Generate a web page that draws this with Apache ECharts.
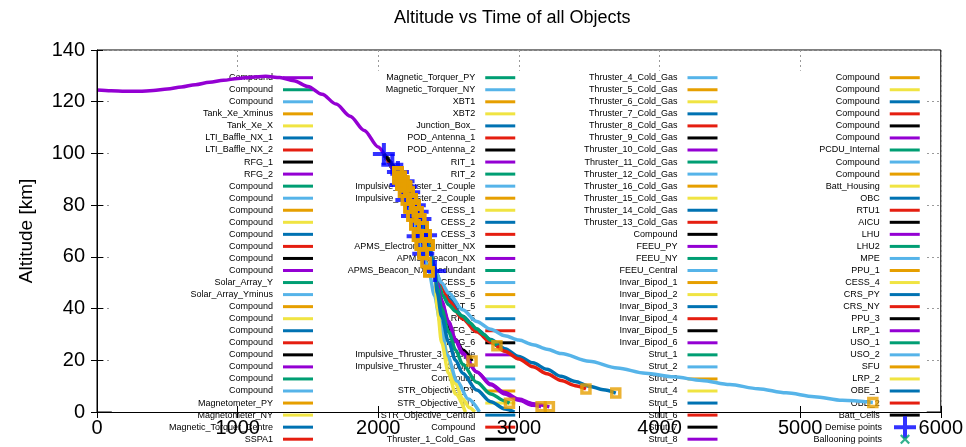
<!DOCTYPE html>
<html>
<head>
<meta charset="utf-8">
<script src="https://cdn.jsdelivr.net/npm/echarts@6/dist/echarts.min.js"></script>
<style>
  html, body { margin: 0; padding: 0; background: #ffffff; }
  #chart { width: 966px; height: 447px; }
</style>
</head>
<body>
<div id="chart"></div>
<script>
const FONT = '"Liberation Sans", Arial, sans-serif';

// Objects in plotting order (the key lists them in this order)
const objectNames = [
  'Compound', 'Compound', 'Compound', 'Tank_Xe_Xminus', 'Tank_Xe_X', 'LTI_Baffle_NX_1', 'LTI_Baffle_NX_2',
  'RFG_1', 'RFG_2', 'Compound', 'Compound', 'Compound', 'Compound', 'Compound', 'Compound', 'Compound',
  'Compound', 'Solar_Array_Y', 'Solar_Array_Yminus', 'Compound', 'Compound', 'Compound', 'Compound',
  'Compound', 'Compound', 'Compound', 'Compound', 'Magnetometer_PY', 'Magnetometer_NY',
  'Magnetic_Torquer_Centre', 'SSPA1', 'SSPA2', 'Magnetic_Torquer_PX',
  'Magnetic_Torquer_PY', 'Magnetic_Torquer_NY', 'XBT1', 'XBT2', 'Junction_Box_', 'POD_Antenna_1',
  'POD_Antenna_2', 'RIT_1', 'RIT_2', 'Impulsive_Thruster_1_Couple', 'Impulsive_Thruster_2_Couple',
  'CESS_1', 'CESS_2', 'CESS_3', 'APMS_Electronic_Emitter_NX', 'APMS_Beacon_NX', 'APMS_Beacon_NX_Redundant',
  'CESS_5', 'CESS_6', 'RIT_5', 'RIT_6', 'RFG_5', 'RFG_6', 'Impulsive_Thruster_3_Couple',
  'Impulsive_Thruster_4_Couple', 'Compound', 'STR_Objective_PY', 'STR_Objective_NY',
  'STR_Objective_Central', 'Compound', 'Thruster_1_Cold_Gas', 'Thruster_2_Cold_Gas', 'Thruster_3_Cold_Gas',
  'Thruster_4_Cold_Gas', 'Thruster_5_Cold_Gas', 'Thruster_6_Cold_Gas', 'Thruster_7_Cold_Gas',
  'Thruster_8_Cold_Gas', 'Thruster_9_Cold_Gas', 'Thruster_10_Cold_Gas', 'Thruster_11_Cold_Gas',
  'Thruster_12_Cold_Gas', 'Thruster_16_Cold_Gas', 'Thruster_15_Cold_Gas', 'Thruster_14_Cold_Gas',
  'Thruster_13_Cold_Gas', 'Compound', 'FEEU_PY', 'FEEU_NY', 'FEEU_Central', 'Invar_Bipod_1',
  'Invar_Bipod_2', 'Invar_Bipod_3', 'Invar_Bipod_4', 'Invar_Bipod_5', 'Invar_Bipod_6', 'Strut_1',
  'Strut_2', 'Strut_3', 'Strut_4', 'Strut_5', 'Strut_6', 'Strut_7', 'Strut_8', 'Strut_9', 'Strut_10',
  'Compound', 'Compound', 'Compound', 'Compound', 'Compound', 'Compound', 'PCDU_Internal', 'Compound',
  'Compound', 'Batt_Housing', 'OBC', 'RTU1', 'AICU', 'LHU', 'LHU2', 'MPE', 'PPU_1', 'CESS_4', 'CRS_PY',
  'CRS_NY', 'PPU_3', 'LRP_1', 'USO_1', 'USO_2', 'SFU', 'LRP_2', 'OBE_1', 'OBE_2', 'Batt_Cells'
];

// gnuplot default line colours, cycled through the objects
const palette = ['#9400D3', '#009E73', '#56B4E9', '#E69F00', '#F0E442', '#0072B2', '#E51E10', '#000000'];

// Axis ticks
const timeTicks = [0, 1000, 2000, 3000, 4000, 5000, 6000];
const altTicks = [0, 20, 40, 60, 80, 100, 120, 140];

// Parent spacecraft before break-up (time s, altitude km)
const parentT   = [0, 100, 200, 300, 400, 500, 600, 700, 800, 900, 1000, 1100, 1200, 1300, 1400, 1500, 1600, 1700, 1800, 1900, 2000, 2040];
const parentAlt = [124.5, 124.2, 124.0, 124.0, 124.3, 124.9, 125.7, 126.6, 127.5, 128.3, 129.0, 129.5, 129.8, 129.4, 128.1, 125.9, 122.9, 119.1, 114.4, 108.9, 102.5, 99.8];

// Common fragment track after break-up
const mainTrackT   = [2040, 2060, 2080, 2100, 2120, 2140, 2160, 2180, 2200, 2220, 2240, 2260, 2280, 2300, 2320, 2340, 2360, 2380, 2400];
const mainTrackAlt = [99.8, 98.4, 97.0, 95.6, 94.2, 92.8, 91.1, 89.2, 87.2, 85.0, 82.5, 80.0, 77.4, 74.6, 71.6, 68.4, 64.6, 60.2, 55.2];

// Steeper track followed by some of the lighter fragments
const leftTrackT   = [2040, 2060, 2080, 2100, 2120, 2140, 2160, 2180, 2200, 2220, 2240, 2260, 2280, 2300, 2320, 2340, 2360];
const leftTrackAlt = [99.8, 98.0, 96.2, 94.3, 92.3, 90.2, 87.8, 85.0, 82.0, 79.0, 75.8, 72.4, 68.0, 64.6, 61.2, 57.8, 54.2];

// End time of every fragment that burns up along the tracks, in plotting order
const bandEnd = [
  2300, 2180, 2340, 2220, 2160, 2260, 2320, 2140, 2280, 2200, 2360, 2240,
  2200, 2320, 2160, 2280, 2340, 2180, 2240, 2300, 2140, 2260, 2220, 2360,
  2260, 2140, 2300, 2180, 2220, 2340, 2160, 2320, 2240, 2360, 2200, 2280,
  2340, 2240, 2200, 2140, 2300, 2260, 2360, 2180, 2320, 2220, 2280, 2160,
  2180, 2280, 2240, 2320, 2140, 2360, 2200, 2260, 2160, 2300, 2340, 2220,
  2220, 2360, 2280, 2160, 2260, 2140, 2340, 2200, 2300, 2180, 2240, 2320,
  2160, 2200, 2320, 2340, 2180, 2300, 2280, 2240, 2360, 2140, 2260, 2220,
  2240, 2340, 2140, 2260, 2360, 2320, 2220, 2160, 2200, 2280, 2180, 2300,
  2320, 2160, 2260, 2300, 2200, 2220, 2140, 2340, 2180, 2240, 2360, 2280,
  2280, 2300, 2220, 2240, 2340, 2160, 2260
];

// Fragments that survive below the break-up region (continuations after the track)
const mpeT = [2450, 2500, 2600, 2700, 2800, 2900, 3000, 3100, 3200, 3300, 3500, 3700, 3900, 4100, 4300, 4500, 4700, 4900, 5100, 5300, 5517];
const mpeAlt = [50.0, 46.0, 39.5, 35.0, 32.0, 29.5, 27.8, 26.0, 24.3, 22.6, 19.6, 17.0, 15.0, 13.6, 12.2, 10.6, 9.0, 7.4, 5.9, 4.5, 3.7];
const bipod4T = [2450, 2500, 2600, 2700, 2800, 2900, 3000, 3100, 3200, 3300, 3400, 3477];
const bipod4Alt = [49.0, 43.0, 36.0, 31.0, 27.0, 23.5, 20.5, 17.5, 14.8, 12.2, 10.2, 8.9];
const bipod3T = [2450, 2500, 2600, 2700, 2800, 2900, 3000, 3100, 3200, 3300, 3400, 3500, 3600, 3689];
const bipod3Alt = [49.5, 44.0, 37.0, 32.0, 28.0, 24.5, 21.5, 19.0, 16.5, 13.8, 11.8, 10.0, 8.6, 7.3];
const strut1T = [2430, 2460, 2500, 2550, 2600, 2650, 2700, 2750, 2800, 2844];
const strut1Alt = [49.0, 45.0, 41.5, 39.0, 37.0, 34.5, 32.2, 30.0, 27.8, 25.6];
const bipod5T = [2420, 2440, 2460, 2480, 2500, 2550, 2600, 2667];
const bipod5Alt = [50.0, 45.0, 40.0, 36.0, 33.0, 28.0, 24.0, 19.7];
const bipod6T = [2420, 2450, 2500, 2550, 2600, 2700, 2800, 2900, 3000, 3100, 3158];
const bipod6Alt = [50.0, 43.0, 35.0, 28.0, 23.0, 15.5, 10.5, 7.0, 4.5, 2.6, 2.0];
const strut8T = [2420, 2450, 2500, 2550, 2600, 2700, 2800, 2900, 3000, 3100, 3217];
const strut8Alt = [49.5, 42.5, 34.5, 27.5, 22.5, 15.5, 10.8, 7.5, 5.0, 3.2, 2.0];
const uso1T = [2420, 2450, 2500, 2550, 2600, 2700, 2800, 2900, 2933];
const uso1Alt = [48.0, 40.0, 31.0, 24.0, 18.5, 11.5, 7.0, 4.3, 3.4];
const obe1T = [2420, 2450, 2500, 2550, 2600, 2700, 2800, 2900, 2969];
const obe1Alt = [46.0, 37.0, 27.0, 20.0, 15.0, 8.5, 4.0, 1.2, 0.0];
const strut4T = [2420, 2450, 2500, 2550, 2600, 2650, 2686];
const strut4Alt = [44.0, 32.0, 20.0, 11.0, 5.0, 1.6, 0.0];
const lrp2T = [2420, 2450, 2500, 2550, 2620];
const lrp2Alt = [40.0, 27.0, 15.0, 7.0, 0.0];
const uso2T = [2400, 2440, 2490, 2560, 2640, 2720];
const uso2Alt = [45.0, 35.0, 22.0, 12.0, 5.0, 0.0];

// Recorded demise events
const demiseT   = [2040, 2100, 2140, 2160, 2180, 2200, 2200, 2220, 2240, 2260, 2280, 2280, 2300, 2320, 2340, 2403];
const demiseAlt = [99.8, 95.6, 92.8, 87.8, 89.2, 87.2, 82.0, 85.0, 75.8, 80.0, 77.4, 68.0, 74.6, 61.2, 68.4, 54.5];
// No ballooning events in this run
const balloonT = [];
const balloonAlt = [];

// ---------------------------------------------------------------------------

const zip = (ts, as) => ts.map((t, i) => [t, as[i]]);
const trackUpTo = (ts, as, tEnd) => zip(ts, as).filter(p => p[0] <= tEnd);

const continuations = {
  'MPE': { track: 'main', t: mpeT, a: mpeAlt },
  'Invar_Bipod_4': { track: 'main', t: bipod4T, a: bipod4Alt },
  'Invar_Bipod_3': { track: 'main', t: bipod3T, a: bipod3Alt },
  'Strut_1': { track: 'main', t: strut1T, a: strut1Alt },
  'Invar_Bipod_5': { track: 'main', t: bipod5T, a: bipod5Alt },
  'Invar_Bipod_6': { track: 'main', t: bipod6T, a: bipod6Alt },
  'Strut_8': { track: 'main', t: strut8T, a: strut8Alt },
  'USO_1': { track: 'main', t: uso1T, a: uso1Alt },
  'OBE_1': { track: 'main', t: obe1T, a: obe1Alt },
  'Strut_4': { track: 'main', t: strut4T, a: strut4Alt },
  'LRP_2': { track: 'main', t: lrp2T, a: lrp2Alt },
  'USO_2': { track: 'left', t: uso2T, a: uso2Alt }
};

const curveIds = objectNames.map((n, i) => n + '#' + i);
const curveSeries = [];
const endPoints = [];
let bandIdx = 0;

objectNames.forEach((name, i) => {
  let data;
  if (i === 0) {
    data = zip(parentT, parentAlt);
  } else if (continuations[name]) {
    const c = continuations[name];
    const base = c.track === 'left' ? zip(leftTrackT, leftTrackAlt) : zip(mainTrackT, mainTrackAlt);
    data = base.concat(zip(c.t, c.a));
  } else {
    const tEnd = bandEnd[bandIdx];
    const left = bandIdx % 3 === 2;
    bandIdx++;
    data = left ? trackUpTo(leftTrackT, leftTrackAlt, tEnd) : trackUpTo(mainTrackT, mainTrackAlt, tEnd);
  }
  if (i > 0) {
    const last = data[data.length - 1];
    if (last[1] > 0) endPoints.push(last);
  }
  curveSeries.push({
    name: curveIds[i],
    type: 'line',
    data: data,
    showSymbol: false,
    symbol: 'none',
    smooth: 0.3,
    smoothMonotone: 'x',
    color: palette[i % palette.length],
    lineStyle: { width: 3.5, color: palette[i % palette.length] },
    z: 2,
    silent: true,
    animation: false
  });
});

const plusPath = 'path://M9,0H13V9H22V13H13V22H9V13H0V9H9Z';
const crossPath = 'path://M0,0L0.01,0Z M22,22L21.99,22Z M6,7.6L7.6,6L11,9.4L14.4,6L16,7.6L12.6,11L16,14.4L14.4,16L11,12.6L7.6,16L6,14.4L9.4,11Z';

const pointSeries = [
  {
    name: 'Impact points',
    type: 'scatter',
    data: endPoints,
    symbol: 'rect',
    symbolSize: 8,
    itemStyle: { color: 'rgba(0,0,0,0)', borderColor: '#E69F00', borderWidth: 3.5 },
    z: 4,
    silent: true,
    animation: false
  },
  {
    name: 'Demise points',
    type: 'scatter',
    data: zip(demiseT, demiseAlt),
    symbol: plusPath,
    symbolSize: 22,
    itemStyle: { color: '#0000FF' },
    z: 3,
    silent: true,
    animation: false
  },
  {
    name: 'Ballooning points',
    type: 'scatter',
    data: zip(balloonT, balloonAlt),
    symbol: crossPath,
    symbolSize: 22,
    itemStyle: { color: '#009E73' },
    z: 3,
    silent: true,
    animation: false
  }
];

const axisLabelStyle = { fontFamily: FONT, fontSize: 20, color: '#000', formatter: v => String(v) };
const gridLine = { show: true, lineStyle: { color: '#9a9a9a', width: 1, type: [2, 3] } };
const inTick = { show: true, inside: true, length: 6, lineStyle: { color: '#000', width: 1 } };

const chart = echarts.init(document.getElementById('chart'), null, { renderer: 'canvas' });
chart.setOption({
  animation: false,
  backgroundColor: '#ffffff',
  title: {
    text: 'Altitude vs Time of all Objects',
    left: 394, top: 9, padding: 0,
    textStyle: { fontFamily: FONT, fontSize: 18, fontWeight: 'normal', color: '#000' }
  },
  grid: { left: 97, right: 21, top: 50, bottom: 35, show: true, borderColor: '#000', borderWidth: 1, backgroundColor: 'transparent', containLabel: false },
  xAxis: [
    { type: 'value', min: timeTicks[0], max: timeTicks[timeTicks.length - 1], interval: 1000, z: 0,
      axisLine: { show: false }, axisTick: { show: false }, axisLabel: { show: false }, splitLine: gridLine },
    { type: 'value', position: 'bottom', min: timeTicks[0], max: timeTicks[timeTicks.length - 1], interval: 1000, z: 6,
      axisLine: { show: true, onZero: false, lineStyle: { color: '#000', width: 1 } }, axisTick: inTick,
      axisLabel: Object.assign({ margin: 6 }, axisLabelStyle), splitLine: { show: false } },
    { type: 'value', position: 'top', min: timeTicks[0], max: timeTicks[timeTicks.length - 1], interval: 1000, z: 6,
      axisLine: { show: false }, axisTick: inTick, axisLabel: { show: false }, splitLine: { show: false } }
  ],
  yAxis: [
    { type: 'value', min: altTicks[0], max: altTicks[altTicks.length - 1], interval: 20, z: 0,
      axisLine: { show: false }, axisTick: { show: false }, axisLabel: { show: false }, splitLine: gridLine },
    { type: 'value', position: 'left', min: altTicks[0], max: altTicks[altTicks.length - 1], interval: 20, z: 6,
      name: 'Altitude [km]', nameLocation: 'middle', nameGap: 61,
      nameTextStyle: { fontFamily: FONT, fontSize: 19, color: '#000' },
      axisLine: { show: true, onZero: false, lineStyle: { color: '#000', width: 1 } }, axisTick: inTick,
      axisLabel: Object.assign({ margin: 12 }, axisLabelStyle), splitLine: { show: false } },
    { type: 'value', position: 'right', min: altTicks[0], max: altTicks[altTicks.length - 1], interval: 20, z: 6,
      axisLine: { show: false }, axisTick: inTick, axisLabel: { show: false }, splitLine: { show: false } }
  ],
  legend: [
    {
      type: 'plain', orient: 'vertical', left: 111.8, top: 70.7, height: 402,
      padding: [2, 7, 0, 1], itemGap: 2.05, itemWidth: 30, itemHeight: 3,
      icon: 'rect', align: 'right', backgroundColor: '#ffffff', z: 1, selectedMode: false,
      textStyle: { fontFamily: FONT, fontSize: 9, color: '#000', width: 160.2, lineHeight: 10, padding: [0, 5, 0, 0] },
      formatter: n => n.split('#')[0],
      data: curveIds
    },
    {
      type: 'plain', orient: 'vertical', right: 50, top: 416.2, height: 100,
      padding: 0, itemGap: -9.95, itemWidth: 22, itemHeight: 22, align: 'right', z: 1.5, selectedMode: false,
      textStyle: { fontFamily: FONT, fontSize: 9, color: '#000', lineHeight: 10, padding: [0, 7, 0, 0] },
      data: [{ name: 'Demise points', icon: plusPath }, { name: 'Ballooning points', icon: crossPath }]
    }
  ],
  series: curveSeries.map(s => Object.assign(s, { xAxisIndex: 0, yAxisIndex: 0 }))
    .concat(pointSeries.map(s => Object.assign(s, { xAxisIndex: 0, yAxisIndex: 0 })))
});
</script>
</body>
</html>
